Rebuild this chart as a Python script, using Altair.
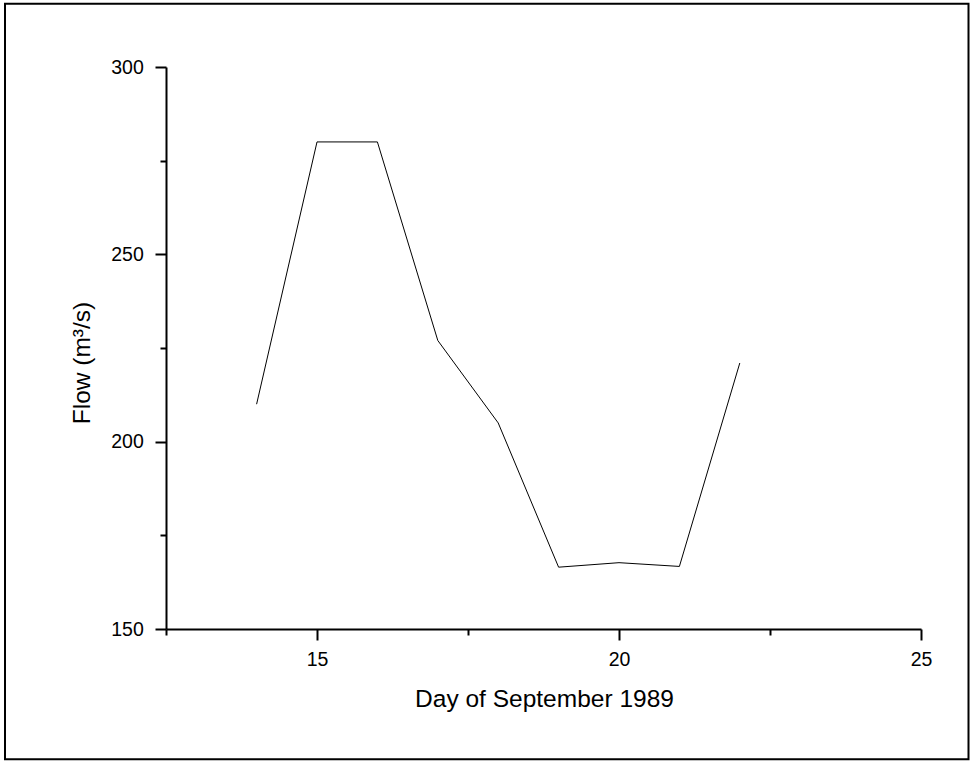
import altair as alt
import pandas as pd

# Daily river flow, September 1989
days = [14, 15, 16, 17, 18, 19, 20, 21, 22]
flow = [210, 280, 280, 227, 205, 166.5, 167.7, 166.7, 221]

# Axis tick positions
major_x = [15, 20, 25]
minor_x = [12.5, 17.5, 22.5]
major_y = [150, 200, 250, 300]
minor_y = [175, 225, 275]

FONT = "Liberation Sans"
W, H = 755, 562

df = pd.DataFrame({"day": days, "flow": flow})

x_scale = alt.Scale(domain=[12.5, 25], nice=False, zero=False)
y_scale = alt.Scale(domain=[150, 300], nice=False, zero=False)

common = dict(
    grid=False, domainColor="black", domainWidth=2,
    tickColor="black", tickWidth=2, labelFlush=False, labelOverlap=False,
    labelFont=FONT, labelFontSize=19.5, labelColor="black",
    titleFont=FONT, titleFontSize=24.5, titleFontWeight="normal",
    titleColor="black",
)

major_x_axis = alt.Axis(
    orient="bottom", values=major_x, tickSize=11, labelPadding=25,
    labelBaseline="alphabetic", title="Day of September 1989",
    titleX=378, titleY=77, titleBaseline="alphabetic", titleAlign="center",
    **common,
)
major_y_axis = alt.Axis(
    orient="left", values=major_y, tickSize=11, labelPadding=11.7,
    title="Flow (m³/s)", titleAngle=-90, titleX=-77, titleY=295.5,
    titleBaseline="alphabetic", titleAlign="center",
    **common,
)
minor_x_axis = alt.Axis(orient="bottom", values=minor_x, tickSize=6,
                        labels=False, domain=False, title=None,
                        grid=False, tickColor="black", tickWidth=2)
minor_y_axis = alt.Axis(orient="left", values=minor_y, tickSize=6,
                        labels=False, domain=False, title=None,
                        grid=False, tickColor="black", tickWidth=2)

line = alt.Chart(df).mark_line(color="black", strokeWidth=1).encode(
    x=alt.X("day:Q", scale=x_scale, axis=major_x_axis),
    y=alt.Y("flow:Q", scale=y_scale, axis=major_y_axis),
)

# Invisible layer that only carries the minor-tick axes
minor = alt.Chart(df).mark_line(opacity=0).encode(
    x=alt.X("day:Q", scale=x_scale, axis=minor_x_axis),
    y=alt.Y("flow:Q", scale=y_scale, axis=minor_y_axis),
)

# Outer frame around the whole figure
frame = alt.Chart(pd.DataFrame({"f": [0]})).mark_rect(
    fillOpacity=0, stroke="black", strokeWidth=2
).encode(
    x=alt.value(-161), x2=alt.value(802.5),
    y=alt.value(-63.3), y2=alt.value(692.3),
)

chart = (
    alt.layer(line, minor, frame)
    .resolve_axis(x="independent", y="independent")
    .properties(
        width=W, height=H,
        padding={"left": 166, "top": 67, "right": 52, "bottom": 134},
        autosize=alt.AutoSizeParams(type="none"),
        background="white",
    )
    .configure_view(strokeWidth=0)
)

chart.save("out.html", embed_options={"renderer": "svg", "actions": False})
